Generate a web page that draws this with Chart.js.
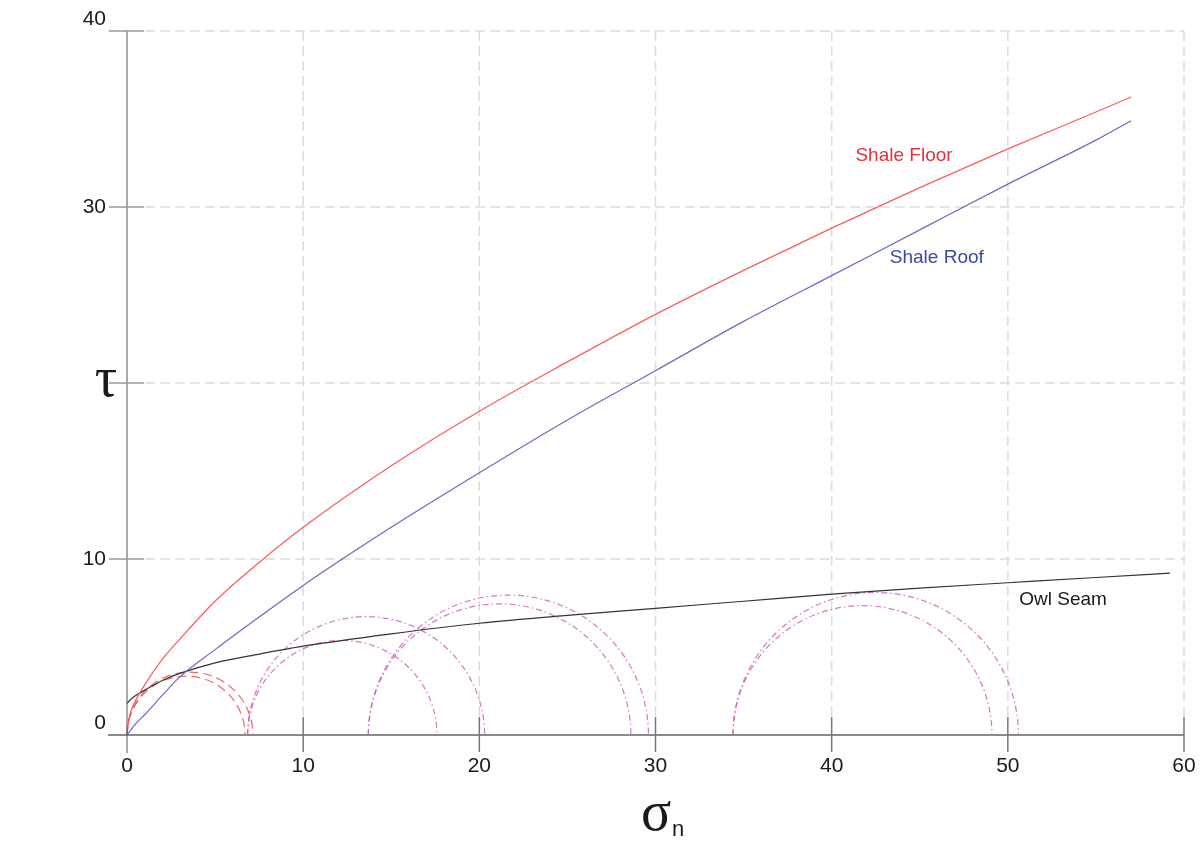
<!DOCTYPE html>
<html>
<head>
<meta charset="utf-8">
<script src="https://cdn.jsdelivr.net/npm/chart.js@4.4.0/dist/chart.umd.min.js"></script>
<style>
  html, body { margin: 0; padding: 0; background: #fff; }
</style>
</head>
<body>
<canvas id="chart" width="1203" height="845"></canvas>
<script>
// axis ticks (the tau symbol sits where the 20 label would go)
const xTicks = [0, 10, 20, 30, 40, 50, 60];
const yTicks = [0, 10, 20, 30, 40];
const yTickLabels = ['0', '10', '', '30', '40'];

// failure envelopes (sigma_n, tau)
const floorSigma = [0, 0.1, 0.3, 0.7, 1, 2, 3, 5, 7.5, 10, 15, 20, 25, 30, 35, 40, 45, 50, 55, 57];
const floorTau   = [0, 0.85, 1.55, 2.35, 2.85, 4.3, 5.45, 7.6, 9.8, 11.8, 15.3, 18.4, 21.2, 23.9, 26.4, 28.8, 31.1, 33.3, 35.4, 36.25];

const roofSigma = [0, 0.5, 1, 2, 3, 5, 7.5, 10, 15, 20, 25, 30, 35, 40, 45, 50, 55, 57];
const roofTau   = [0, 0.65, 1.15, 2.25, 3.3, 4.85, 6.7, 8.5, 11.8, 14.9, 17.9, 20.7, 23.5, 26.1, 28.7, 31.3, 33.8, 34.9];

const owlSigma = [0, 0.3, 0.7, 1, 2, 3, 5, 7.5, 10, 15, 20, 25, 30, 35, 40, 45, 50, 55, 59.2];
const owlTau   = [1.8, 2.1, 2.37, 2.55, 3.1, 3.5, 4.1, 4.6, 5.05, 5.75, 6.35, 6.8, 7.2, 7.6, 8.0, 8.35, 8.65, 8.95, 9.2];

// Mohr circles: sigma3 / sigma1
const circleS3 = [0, 0, 6.85, 6.85, 13.7, 13.7, 34.4, 34.4];
const circleS1 = [7.15, 6.7, 20.3, 17.6, 29.6, 28.6, 50.6, 49.1];
const circleSet = ['floor', 'floor', 'roof', 'roof', 'roof', 'roof', 'roof', 'roof'];

const circleStyle = {
  floor: { color: 'rgba(240,80,80,0.85)', dash: [9, 5] },
  roof:  { color: 'rgba(205,95,185,0.85)', dash: [6, 3, 1.5, 3] }
};

function pts(xs, ys) {
  return xs.map((v, i) => ({ x: v, y: ys[i] }));
}

function line(ctx, x1, y1, x2, y2) {
  ctx.beginPath();
  ctx.moveTo(x1, y1);
  ctx.lineTo(x2, y2);
  ctx.stroke();
}

// grid, Mohr circles, axes and labels
const frame = {
  id: 'frame',
  beforeDatasetsDraw(chart) {
    const { ctx, chartArea: a, scales: { x, y } } = chart;
    ctx.save();
    ctx.strokeStyle = '#dcdcdc';
    ctx.lineWidth = 1.5;
    ctx.setLineDash([10, 5]);
    xTicks.forEach(v => {
      if (v === 0) return;
      const px = x.getPixelForValue(v);
      line(ctx, px, a.top, px, a.bottom - 18);
    });
    yTicks.forEach(v => {
      if (v === 0) return;
      const py = y.getPixelForValue(v);
      line(ctx, a.left + 18, py, a.right, py);
    });

    ctx.lineWidth = 1.2;
    circleS3.forEach((s3, i) => {
      const s1 = circleS1[i];
      const c = (s1 + s3) / 2;
      const r = (s1 - s3) / 2;
      const cx = x.getPixelForValue(c);
      const cy = y.getPixelForValue(0);
      const rx = x.getPixelForValue(c + r) - cx;
      const ry = cy - y.getPixelForValue(r);
      const st = circleStyle[circleSet[i]];
      ctx.strokeStyle = st.color;
      ctx.setLineDash(st.dash);
      ctx.beginPath();
      ctx.ellipse(cx, cy, rx, ry, 0, Math.PI, 2 * Math.PI);
      ctx.stroke();
    });
    ctx.restore();
  },
  afterDatasetsDraw(chart) {
    const { ctx, chartArea: a, scales: { x, y } } = chart;
    const x0 = x.getPixelForValue(0);
    const y0 = y.getPixelForValue(0);
    ctx.save();
    ctx.setLineDash([]);

    // axes
    ctx.strokeStyle = '#8a8a8a';
    ctx.lineWidth = 2;
    line(ctx, x0 - 19, y0, a.right, y0);
    ctx.strokeStyle = '#555';
    ctx.lineWidth = 1;
    line(ctx, x0, a.top, x0, y0 + 18);

    // tick marks crossing the axes
    ctx.strokeStyle = '#777';
    ctx.lineWidth = 1.5;
    xTicks.forEach(v => {
      if (v === 0) return;
      const px = x.getPixelForValue(v);
      line(ctx, px, y0 - 18, px, y0 + 17);
    });
    ctx.strokeStyle = '#999';
    yTicks.forEach(v => {
      if (v === 0) return;
      const py = y.getPixelForValue(v);
      line(ctx, x0 - 18, py, x0 + 17, py);
    });

    // tick labels; the end labels sit a little above their lines
    ctx.fillStyle = '#1a1a1a';
    ctx.font = '21px "Liberation Sans", Arial, sans-serif';
    ctx.textBaseline = 'middle';
    ctx.textAlign = 'center';
    xTicks.forEach(v => ctx.fillText(String(v), x.getPixelForValue(v), y0 + 31));
    ctx.textAlign = 'right';
    const yEnds = [yTicks[0], yTicks[yTicks.length - 1]];
    yTicks.forEach((v, i) => {
      const dy = yEnds.includes(v) ? -12 : 0;
      ctx.fillText(yTickLabels[i], x0 - 21, y.getPixelForValue(v) + dy);
    });

    // axis titles
    ctx.font = '56px "Liberation Serif", "Times New Roman", serif';
    ctx.textAlign = 'center';
    ctx.textBaseline = 'alphabetic';
    ctx.fillText('τ', 106, 396);
    ctx.fillText('σ', 656, 830);
    ctx.font = '22px "Liberation Sans", Arial, sans-serif';
    ctx.textAlign = 'left';
    ctx.fillText('n', 672, 836);

    // envelope names
    ctx.font = '19px "Liberation Sans", Arial, sans-serif';
    ctx.textBaseline = 'middle';
    ctx.fillStyle = '#e8303a';
    ctx.fillText('Shale Floor', x.getPixelForValue(41.35), y.getPixelForValue(32.9));
    ctx.fillStyle = '#3d4aa3';
    ctx.fillText('Shale Roof', x.getPixelForValue(43.3), y.getPixelForValue(27.1));
    ctx.fillStyle = '#1a1a1a';
    ctx.fillText('Owl Seam', x.getPixelForValue(50.65), y.getPixelForValue(7.7));
    ctx.restore();
  }
};

const envelope = (label, xs, ys, color) => ({
  label: label,
  data: pts(xs, ys),
  showLine: true,
  borderColor: color,
  borderWidth: 1.2,
  pointRadius: 0,
  cubicInterpolationMode: 'monotone',
  clip: false
});

new Chart(document.getElementById('chart').getContext('2d'), {
  type: 'scatter',
  data: {
    datasets: [
      envelope('Shale Floor', floorSigma, floorTau, '#ff5a5a'),
      envelope('Shale Roof', roofSigma, roofTau, '#6a6ac4'),
      envelope('Owl Seam', owlSigma, owlTau, '#333333')
    ]
  },
  options: {
    responsive: false,
    animation: false,
    devicePixelRatio: 1,
    layout: { padding: { left: 127, right: 19, top: 31, bottom: 110 } },
    plugins: { legend: { display: false }, tooltip: { enabled: false } },
    scales: {
      x: { type: 'linear', min: 0, max: 60, display: false },
      y: { type: 'linear', min: 0, max: 40, display: false }
    }
  },
  plugins: [frame]
});
</script>
</body>
</html>
